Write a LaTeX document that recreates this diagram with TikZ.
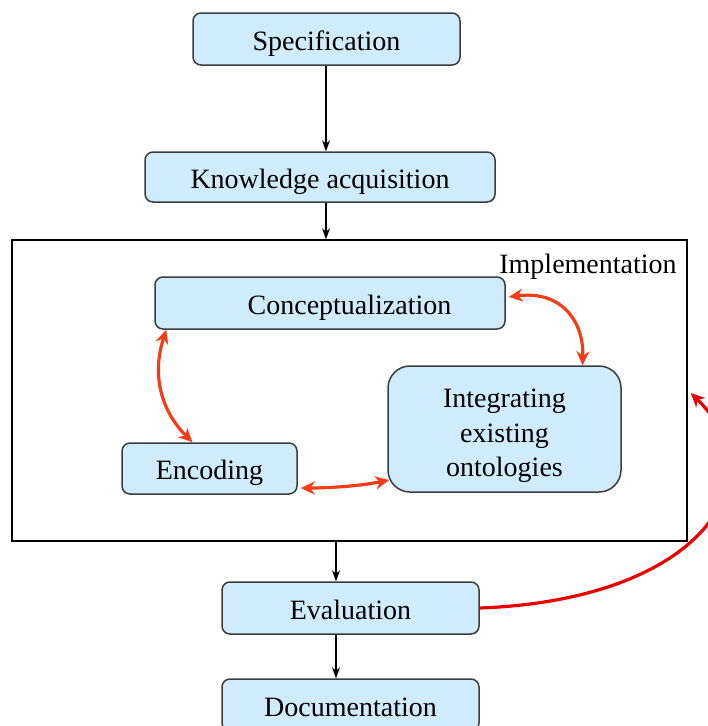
\documentclass[tikz,border=0pt]{standalone}
\usepackage{fontspec}
\setmainfont{Liberation Serif}
\usetikzlibrary{arrows.meta}
\definecolor{boxfill}{RGB}{208,236,252}
\definecolor{boxline}{RGB}{60,60,60}
\definecolor{loopred}{RGB}{245,60,25}
\definecolor{backred}{RGB}{235,0,0}
\begin{document}
\begin{tikzpicture}[x=1pt,y=-1pt,
  stage/.style={draw=boxline, line width=1.5pt, fill=boxfill, rounded corners=8pt,
    inner sep=0pt, font=\fontsize{28}{34.5}\selectfont, align=center},
  oneline/.style={text height=22pt, text depth=0pt},
  flow/.style={-{Stealth[length=11pt,width=8pt]}, line width=1.2pt},
  loopline/.style={{Stealth[length=14pt,width=13pt]}-{Stealth[length=14pt,width=13pt]},
    draw=loopred, line width=3.2pt},
  backline/.style={-{Stealth[length=14pt,width=13pt]}, draw=backred, line width=3.2pt},
  ]
\useasboundingbox (0,0) rectangle (708,726);

% outer implementation frame
\node (impl) [draw, line width=1.5pt, minimum width=675pt, minimum height=301pt,
  inner sep=0pt] at (349.5,390.5) {};
\node (impllabel) [font=\fontsize{28}{34}\selectfont, inner sep=0pt] at (588,267) {Implementation};

% process stages
\node (spec)  [stage, oneline, minimum width=267pt, minimum height=52pt] at (326.5,39)  {Specification};
\node (ka)    [stage, oneline, minimum width=350pt, minimum height=50pt] at (320,177)   {Knowledge acquisition};
\node (conc)  [stage, oneline, minimum width=350pt, minimum height=52pt] at (330,303)   {\hspace*{39pt}Conceptualization};
\node (integ) [stage, rounded corners=22pt, minimum width=233pt, minimum height=126pt]
  at (504.5,429) {\rule{0pt}{33pt}Integrating\\existing\\ontologies};
\node (enc)   [stage, oneline, minimum width=175pt, minimum height=51pt] at (209.5,468.5) {Encoding};
\node (eval)  [stage, oneline, minimum width=257pt, minimum height=52pt] at (350.5,608)   {Evaluation};
\node (doc)   [stage, oneline, minimum width=257pt, minimum height=52pt] at (350.5,705)   {Documentation};

% main flow
\coordinate (uptrunk) at (326,0);
\coordinate (lowtrunk) at (336,0);
\draw[flow] (uptrunk |- spec.south) -- (uptrunk |- ka.north);
\draw[flow] (uptrunk |- ka.south) -- (uptrunk |- impl.north);
\draw[flow] (lowtrunk |- impl.south) -- (lowtrunk |- eval.north);
\draw[flow] (lowtrunk |- eval.south) -- (lowtrunk |- doc.north);

% iteration inside implementation
\draw[loopline] ([xshift=3pt,yshift=6pt]conc.east)
  .. controls (560,290) and (584,320) .. ([xshift=78pt]integ.north);
\draw[loopline] ([xshift=12pt]conc.south west)
  .. controls (150,380) and (165,415) .. ([xshift=-17pt]enc.north);
\draw[loopline] ([xshift=3pt,yshift=-19.5pt]enc.east)
  .. controls (330,488) and (360,486) .. ([xshift=2pt,yshift=-51pt]integ.west);

% feedback from evaluation
\draw[backline] (eval.east)
  .. controls (700,600) and (780,480) .. ([xshift=3pt,yshift=-2.5pt]impl.east);
\end{tikzpicture}
\end{document}
